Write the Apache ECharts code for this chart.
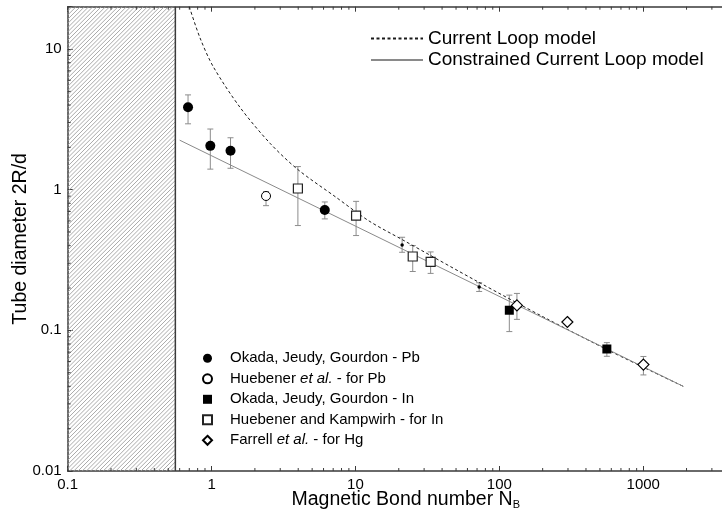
<!DOCTYPE html>
<html><head><meta charset="utf-8">
<script src="https://cdn.jsdelivr.net/npm/echarts@6/dist/echarts.min.js"></script>
<style>html,body{margin:0;padding:0;background:#fff;overflow:hidden}#c{width:744px;height:515px}</style>
</head><body><div id="c"></div>
<script>
// ---------------- data ----------------
const xTickLabels = [0.1, 1, 10, 100, 1000];
const yTickLabels = [0.01, 0.1, 1, 10];
const xMin = 0.1, xMax = 5000, yMin = 0.01, yMax = 20;
const hatchEnd = 0.56;

const seriesNames = [
  'Okada, Jeudy, Gourdon - Pb',
  'Huebener et al. - for Pb',
  'Okada, Jeudy, Gourdon - In',
  'Huebener and Kampwirh - for In',
  'Farrell et al. - for Hg'
];
const lineNames = ['Current Loop model', 'Constrained Current Loop model'];

const okadaPbX  = [0.686, 0.98, 1.354, 6.12];
const okadaPbY  = [3.86, 2.05, 1.89, 0.718];
const okadaPbLo = [2.94, 1.40, 1.42, 0.62];
const okadaPbHi = [4.72, 2.70, 2.34, 0.818];

const huebPbX  = [2.39];
const huebPbY  = [0.902];
const huebPbLo = [0.77];
const huebPbHi = [0.97];

const okadaInX  = [117.3, 558.8];
const okadaInY  = [0.139, 0.0737];
const okadaInLo = [0.098, 0.0654];
const okadaInHi = [0.178, 0.0818];

const hkInX  = [3.98, 10.1, 25.0, 33.3];
const hkInY  = [1.02, 0.655, 0.335, 0.307];
const hkInLo = [0.556, 0.472, 0.262, 0.254];
const hkInHi = [1.46, 0.826, 0.401, 0.361];

const farrellX  = [132.5, 297, 1003];
const farrellY  = [0.1504, 0.1146, 0.0571];
const farrellLo = [0.1197, null, 0.0482];
const farrellHi = [0.183, null, 0.0652];

const dotsX  = [21.1, 72.4];
const dotsY  = [0.405, 0.203];
const dotsLo = [0.359, 0.189];
const dotsHi = [0.459, 0.218];

const loopX = [0.700, 0.831, 1.028, 1.576, 2.546, 3.98, 7.29, 12.4, 21.1, 71.8, 207, 598, 1906];
const loopY = [20, 12.0, 7.48, 3.85, 2.14, 1.39, 0.887, 0.60, 0.442, 0.220, 0.123, 0.0706, 0.0399];

const constrX = [0.6, 1906];
const constrY = [2.25, 0.0399];

// ---------------- helpers ----------------
const FONT = '"Liberation Sans", Arial, sans-serif';
const pts = (xs, ys) => xs.map((x, i) => [x, ys[i]]);
const errs = (xs, lo, hi) => xs.map((x, i) => [x, lo[i], hi[i]]).filter(d => d[1] != null);
function minorTicks(lo, hi) {
  const out = [];
  for (let d = lo; d < hi * 1.0001; d *= 10) {
    for (let k = 2; k <= 9; k++) { const v = +(d * k).toPrecision(6); if (v < hi) out.push(v); }
  }
  return out;
}
function fmtFrom(labels) {
  return function (v) {
    for (const t of labels) { if (Math.abs(Math.log10(v) - Math.log10(t)) < 1e-6) return String(t); }
    return '';
  };
}

const errColor = '#8c8c8c';
function renderErr(params, api) {
  const x = api.value(0), lo = api.value(1), hi = api.value(2);
  const p1 = api.coord([x, lo]), p2 = api.coord([x, hi]);
  const w = 3, st = { stroke: errColor, lineWidth: 1 };
  return { type: 'group', children: [
    { type: 'line', shape: { x1: p1[0], y1: p1[1], x2: p2[0], y2: p2[1] }, style: st },
    { type: 'line', shape: { x1: p1[0] - w, y1: p1[1], x2: p1[0] + w, y2: p1[1] }, style: st },
    { type: 'line', shape: { x1: p2[0] - w, y1: p2[1], x2: p2[0] + w, y2: p2[1] }, style: st }
  ]};
}

const frameColor = '#3a3a3a';
function renderXMinor(params, api) {
  const v = api.value(0);
  const pb = api.coord([v, yMin]), pt = api.coord([v, yMax]);
  const st = { stroke: frameColor, lineWidth: 1 };
  return { type: 'group', children: [
    { type: 'line', shape: { x1: pb[0], y1: pb[1], x2: pb[0], y2: pb[1] - 3 }, style: st },
    { type: 'line', shape: { x1: pt[0], y1: pt[1], x2: pt[0], y2: pt[1] + 3 }, style: st }
  ]};
}
function renderYMinor(params, api) {
  const v = api.value(1);
  const p = api.coord([xMin, v]);
  return { type: 'line', shape: { x1: p[0], y1: p[1], x2: p[0] + 3, y2: p[1] },
           style: { stroke: frameColor, lineWidth: 1 } };
}
function renderHatch(params, api) {
  const a = api.coord([xMin, yMax]), b = api.coord([hatchEnd, yMin]);
  const x0 = a[0], y0 = a[1], x1 = b[0], y1 = b[1];
  const children = [];
  const step = 4.2;
  for (let c = x0 + y0 + step; c < x1 + y1; c += step) {
    const xa = Math.max(x0, c - y1), xb = Math.min(x1, c - y0);
    if (xb <= xa) continue;
    children.push({ type: 'line', shape: { x1: xa, y1: c - xa, x2: xb, y2: c - xb },
                    style: { stroke: '#a0a0a0', lineWidth: 0.9 } });
  }
  children.push({ type: 'line', shape: { x1: x1, y1: y0, x2: x1, y2: y1 },
                  style: { stroke: frameColor, lineWidth: 1.5 } });
  return { type: 'group', children };
}

const axisCommon = {
  type: 'log', logBase: 10,
  axisLine: { show: true, lineStyle: { color: frameColor, width: 1.5 } },
  axisTick: { show: true, inside: true, length: 5, lineStyle: { color: frameColor, width: 1 } },
  splitLine: { show: false },
  minorTick: { show: false },
  minorSplitLine: { show: false }
};

const option = {
  animation: false,
  backgroundColor: '#fff',
  textStyle: { fontFamily: FONT },
  grid: { left: 67.7, top: 6.7, right: 0.2, bottom: 44, containLabel: false, outerBoundsMode: 'none' },
  xAxis: [
    Object.assign({}, axisCommon, {
      min: xMin, max: xMax, position: 'bottom',
      axisLabel: { formatter: fmtFrom(xTickLabels), fontSize: 15, color: '#000', margin: 6, fontFamily: FONT,
                   showMinLabel: true, showMaxLabel: true },
      name: 'Magnetic Bond number N{sub|B}',
      nameLocation: 'middle', nameGap: 19, nameMoveOverlap: false,
      nameTextStyle: { fontSize: 19.5, color: '#000', fontFamily: FONT,
        rich: { sub: { fontSize: 11, color: '#000', fontFamily: FONT, verticalAlign: 'bottom', padding: [9, 0, 0, 0] } } }
    }),
    Object.assign({}, axisCommon, {
      min: xMin, max: xMax, position: 'top',
      axisLabel: { show: false }
    })
  ],
  yAxis: [
    Object.assign({}, axisCommon, {
      min: yMin, max: yMax, position: 'left',
      axisLabel: { formatter: fmtFrom(yTickLabels), fontSize: 15, color: '#000', margin: 6, fontFamily: FONT,
                   showMinLabel: true, showMaxLabel: true },
      name: 'Tube diameter 2R/d', nameLocation: 'middle', nameGap: 37, nameRotate: 90, nameMoveOverlap: false,
      nameTextStyle: { fontSize: 19.5, color: '#000', fontFamily: FONT }
    })
  ],
  legend: [
    {
      data: seriesNames, orient: 'vertical', left: 202, top: 350.8, padding: 0,
      itemWidth: 9, itemHeight: 9, itemGap: 5.5,
      selectedMode: false,
      textStyle: { fontSize: 15, color: '#000', fontFamily: FONT, lineHeight: 15, padding: [0, 0, 0, 13],
                   rich: { i: { fontStyle: 'italic', fontSize: 15, color: '#000', fontFamily: FONT, lineHeight: 15 } } },
      formatter: name => name.replace('et al.', '{i|et al.}')
    },
    {
      data: lineNames, orient: 'vertical', left: 370, top: 29, padding: 0,
      itemWidth: 52, itemHeight: 14, itemGap: 2.5,
      selectedMode: false,
      itemStyle: { opacity: 0 },
      textStyle: { fontSize: 19, color: '#000', fontFamily: FONT, lineHeight: 19 }
    }
  ],
  series: [
    { type: 'custom', name: 'hatch', renderItem: renderHatch, data: [[xMin, yMin]], clip: false, z: 1, silent: true },
    { type: 'custom', name: 'xminor', renderItem: renderXMinor, data: minorTicks(xMin, xMax).map(v => [v, yMin]), clip: false, z: 1, silent: true },
    { type: 'custom', name: 'yminor', renderItem: renderYMinor, data: minorTicks(yMin, yMax).map(v => [xMin, v]), clip: false, z: 1, silent: true },
    { type: 'custom', name: 'errors', renderItem: renderErr, encode: { x: 0, y: [1, 2] }, z: 2, silent: true,
      data: [].concat(errs(okadaPbX, okadaPbLo, okadaPbHi), errs(huebPbX, huebPbLo, huebPbHi),
                      errs(okadaInX, okadaInLo, okadaInHi), errs(hkInX, hkInLo, hkInHi),
                      errs(farrellX, farrellLo, farrellHi), errs(dotsX, dotsLo, dotsHi)) },
    { type: 'line', name: lineNames[0], data: pts(loopX, loopY), showSymbol: false, symbol: 'none', smooth: 0.3, z: 3,
      lineStyle: { color: '#1a1a1a', width: 1, type: [3, 2.5] }, itemStyle: { color: '#1a1a1a' } },
    { type: 'line', name: lineNames[1], data: pts(constrX, constrY), showSymbol: false, symbol: 'none', z: 3,
      lineStyle: { color: '#8a8a8a', width: 1 }, itemStyle: { color: '#8a8a8a' } },
    { type: 'scatter', name: seriesNames[0], data: pts(okadaPbX, okadaPbY), symbol: 'circle', symbolSize: 10, z: 5,
      itemStyle: { color: '#000', borderColor: '#000', borderWidth: 0, opacity: 1 } },
    { type: 'scatter', name: seriesNames[1], data: pts(huebPbX, huebPbY), symbol: 'circle', symbolSize: 9, z: 5,
      itemStyle: { color: '#fff', borderColor: '#000', borderWidth: 1, opacity: 1 } },
    { type: 'scatter', name: seriesNames[2], data: pts(okadaInX, okadaInY), symbol: 'rect', symbolSize: 9, z: 5,
      itemStyle: { color: '#000', borderColor: '#000', borderWidth: 0, opacity: 1 } },
    { type: 'scatter', name: seriesNames[3], data: pts(hkInX, hkInY), symbol: 'rect', symbolSize: 9, z: 5,
      itemStyle: { color: '#fff', borderColor: '#222', borderWidth: 1.2, opacity: 1 } },
    { type: 'scatter', name: seriesNames[4], data: pts(farrellX, farrellY), symbol: 'diamond', symbolSize: 11, z: 5,
      itemStyle: { color: '#fff', borderColor: '#000', borderWidth: 1.2, opacity: 1 } },
    { type: 'scatter', name: 'dots', data: pts(dotsX, dotsY), symbol: 'circle', symbolSize: 3.5, z: 5,
      itemStyle: { color: '#000', opacity: 1 } }
  ]
};

const chart = echarts.init(document.getElementById('c'), null, { renderer: 'canvas' });
chart.setOption(option);
</script>
</body></html>
